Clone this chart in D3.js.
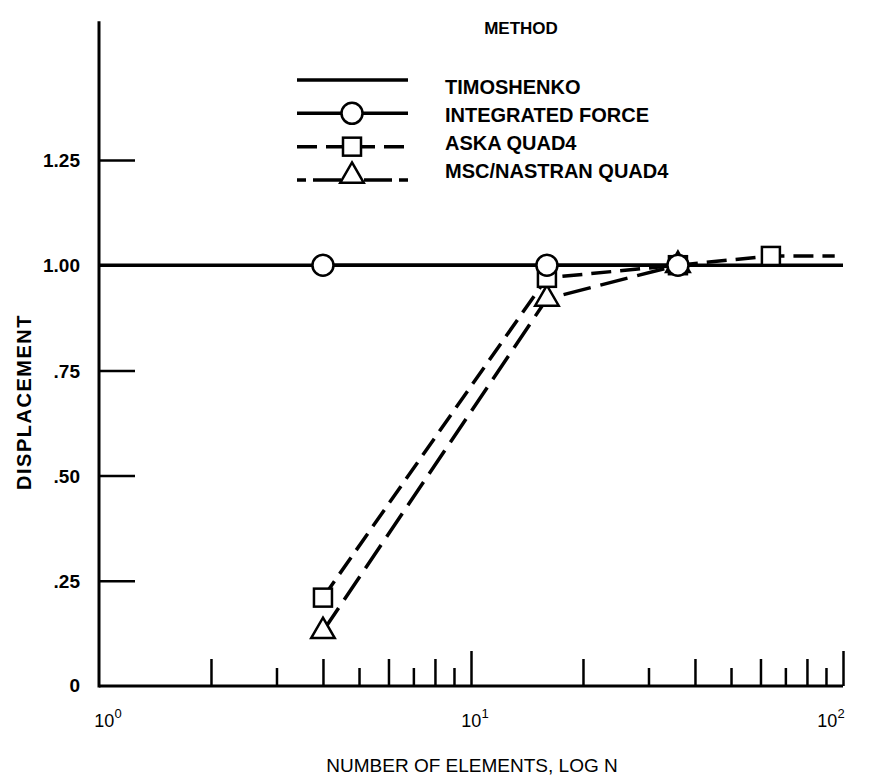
<!DOCTYPE html>
<html>
<head>
<meta charset="utf-8">
<script src="https://cdn.jsdelivr.net/npm/d3@7"></script>
<style>
  body { margin: 0; background: #fff; }
  text { font-family: "Liberation Sans", Arial, sans-serif; fill: #000; }
</style>
</head>
<body>
<div id="chart"></div>
<script>

// data
var elements     = [4, 16, 36, 64];
var timoshenkoX  = [1, 100];
var timoshenkoY  = [1.0, 1.0];
var integratedY  = [1.0, 1.0, 1.0];
var askaX        = [4, 16, 36, 64, 95];
var askaY        = [0.21, 0.97, 1.0, 1.022, 1.022];
var askaMarked   = 4;
var nastranY     = [0.13, 0.92, 1.0];
var yTicks       = [0.25, 0.5, 0.75, 1.0, 1.25];
var yTickLabels  = [".25", ".50", ".75", "1.00", "1.25"];
var xMinor       = [2, 3, 4, 5, 6, 7, 8, 9, 20, 30, 40, 50, 60, 70, 80, 90];
var xMajor       = [10, 100];
var xLabels      = [1, 10, 100];
var legendNames  = ["TIMOSHENKO", "INTEGRATED FORCE", "ASKA QUAD4", "MSC/NASTRAN QUAD4"];

var W = 869, H = 781;

var svg = d3.select("#chart").append("svg")
    .attr("width", W)
    .attr("height", H);

// set the ranges
var x = d3.scaleLog().domain([1, 100]).range([99, 843]);
var y = d3.scaleLinear().domain([0, 1.25]).range([686, 160]);
var yTop = 1.58;

var line = d3.line()
    .x(function(d) { return x(d[0]); })
    .y(function(d) { return y(d[1]); });

// axes lines
svg.append("line")
    .attr("x1", x(1)).attr("x2", x(1))
    .attr("y1", y(0) + 1.5).attr("y2", y(yTop))
    .attr("stroke", "#000").attr("stroke-width", 3);
svg.append("line")
    .attr("x1", x(1)).attr("x2", x(100))
    .attr("y1", y(0)).attr("y2", y(0))
    .attr("stroke", "#000").attr("stroke-width", 3);

// y ticks (pointing into the plot)
var yAxis = svg.append("g")
    .attr("transform", "translate(" + x(1) + ",0)")
    .call(d3.axisLeft(y)
      .tickValues(yTicks)
      .tickSizeInner(-36)
      .tickSizeOuter(0)
      .tickFormat(function(d, i) { return yTickLabels[i]; }));
yAxis.select(".domain").remove();
yAxis.selectAll("line").attr("stroke", "#000").attr("stroke-width", 2.5);
yAxis.selectAll("text")
    .attr("x", -19)
    .attr("dy", "0.35em")
    .style("font-size", "19px")
    .style("font-weight", "bold")
    .style("font-family", "Liberation Sans, Arial, sans-serif");

svg.append("text")
    .attr("x", 80).attr("y", y(0) + 6)
    .attr("text-anchor", "end")
    .style("font-size", "19px")
    .style("font-weight", "bold")
    .text("0");

// x ticks (pointing up)
var xAxis = svg.append("g")
    .attr("transform", "translate(0," + y(0) + ")")
    .call(d3.axisBottom(x)
      .tickValues(xMinor.concat(xMajor))
      .tickSizeOuter(0)
      .tickFormat(""));
xAxis.select(".domain").remove();
xAxis.selectAll(".tick line")
    .attr("stroke", "#000")
    .attr("stroke-width", 2.5)
    .attr("y2", function(d) {
      if (xMajor.indexOf(d) >= 0) return -35;
      var m = Math.round(d / Math.pow(10, Math.floor(Math.log10(d))));
      return (m % 2 === 0) ? -27 : -18;
    });

// x tick labels 10^n
var labelShift = { 1: 9, 10: 4, 100: -12 };
xLabels.forEach(function(v) {
  var t = svg.append("text")
      .attr("x", x(v) + labelShift[v])
      .attr("y", y(0) + 41)
      .attr("text-anchor", "middle")
      .style("font-size", "18px");
  t.append("tspan").text("10");
  t.append("tspan")
      .attr("dy", -9)
      .style("font-size", "13px")
      .text(String(Math.round(Math.log10(v))));
});

// axis titles
svg.append("text")
    .attr("x", 472).attr("y", 772)
    .attr("text-anchor", "middle")
    .style("font-size", "19px")
    .text("NUMBER OF ELEMENTS, LOG N");

svg.append("text")
    .attr("transform", "translate(31,402) rotate(-90)")
    .attr("text-anchor", "middle")
    .style("font-size", "20px")
    .style("font-weight", "bold")
    .style("letter-spacing", "1.5px")
    .text("DISPLACEMENT");

// series lines
var tim = timoshenkoX.map(function(d, i) { return [d, timoshenkoY[i]]; });
var itg = elements.slice(0, integratedY.length).map(function(d, i) { return [d, integratedY[i]]; });
var ask = askaX.map(function(d, i) { return [d, askaY[i]]; });
var nas = elements.slice(0, nastranY.length).map(function(d, i) { return [d, nastranY[i]]; });

svg.append("path").datum(tim).attr("d", line)
    .attr("fill", "none").attr("stroke", "#000").attr("stroke-width", 3.5);
svg.append("path").datum(itg).attr("d", line)
    .attr("fill", "none").attr("stroke", "#000").attr("stroke-width", 3.5);
svg.append("path").datum(ask).attr("d", line)
    .attr("fill", "none").attr("stroke", "#000").attr("stroke-width", 3.5)
    .attr("stroke-dasharray", "20,9");
svg.append("path").datum(nas).attr("d", line)
    .attr("fill", "none").attr("stroke", "#000").attr("stroke-width", 3.5)
    .attr("stroke-dasharray", "28,10");

// markers
var tri = d3.symbol().type(d3.symbolTriangle).size(240);

svg.selectAll(".tri")
    .data(nas)
  .enter().append("path")
    .attr("class", "tri")
    .attr("d", tri)
    .attr("transform", function(d) { return "translate(" + x(d[0]) + "," + y(d[1]) + ")"; })
    .attr("fill", "#fff").attr("stroke", "#000").attr("stroke-width", 2.5);

svg.selectAll(".sq")
    .data(ask.slice(0, askaMarked))
  .enter().append("rect")
    .attr("class", "sq")
    .attr("x", function(d) { return x(d[0]) - 9; })
    .attr("y", function(d) { return y(d[1]) - 9; })
    .attr("width", 18).attr("height", 18)
    .attr("fill", "#fff").attr("stroke", "#000").attr("stroke-width", 2.5);

svg.selectAll(".circ")
    .data(itg)
  .enter().append("circle")
    .attr("class", "circ")
    .attr("cx", function(d) { return x(d[0]); })
    .attr("cy", function(d) { return y(d[1]); })
    .attr("r", 10.5)
    .attr("fill", "#fff").attr("stroke", "#000").attr("stroke-width", 2.5);

// legend
svg.append("text")
    .attr("x", 521).attr("y", 34)
    .attr("text-anchor", "middle")
    .style("font-size", "17px")
    .style("font-weight", "bold")
    .text("METHOD");

var legLine = d3.scalePoint().domain(legendNames).range([80, 180]);
var legText = d3.scalePoint().domain(legendNames).range([87, 171]);
var dashes = [null, null, "20,9", "9,7,28,7"];
var lx1 = 297, lx2 = 408, lmid = 352;

legendNames.forEach(function(name, i) {
  var ly = legLine(name);
  svg.append("line")
      .attr("x1", lx1).attr("x2", lx2)
      .attr("y1", ly).attr("y2", ly)
      .attr("stroke", "#000").attr("stroke-width", 3.5)
      .attr("stroke-dasharray", dashes[i]);
  if (i === 1) {
    svg.append("circle").attr("cx", lmid).attr("cy", ly).attr("r", 10.5)
        .attr("fill", "#fff").attr("stroke", "#000").attr("stroke-width", 2.5);
  } else if (i === 2) {
    svg.append("rect").attr("x", lmid - 9).attr("y", ly - 9)
        .attr("width", 18).attr("height", 18)
        .attr("fill", "#fff").attr("stroke", "#000").attr("stroke-width", 2.5);
  } else if (i === 3) {
    svg.append("path").attr("d", tri)
        .attr("transform", "translate(" + lmid + "," + (ly - 4) + ")")
        .attr("fill", "#fff").attr("stroke", "#000").attr("stroke-width", 2.5);
  }
  svg.append("text")
      .attr("x", 445).attr("y", legText(name))
      .attr("dy", "0.35em")
      .style("font-size", "20px")
      .style("font-weight", "bold")
      .text(name);
});
</script>
</body>
</html>
